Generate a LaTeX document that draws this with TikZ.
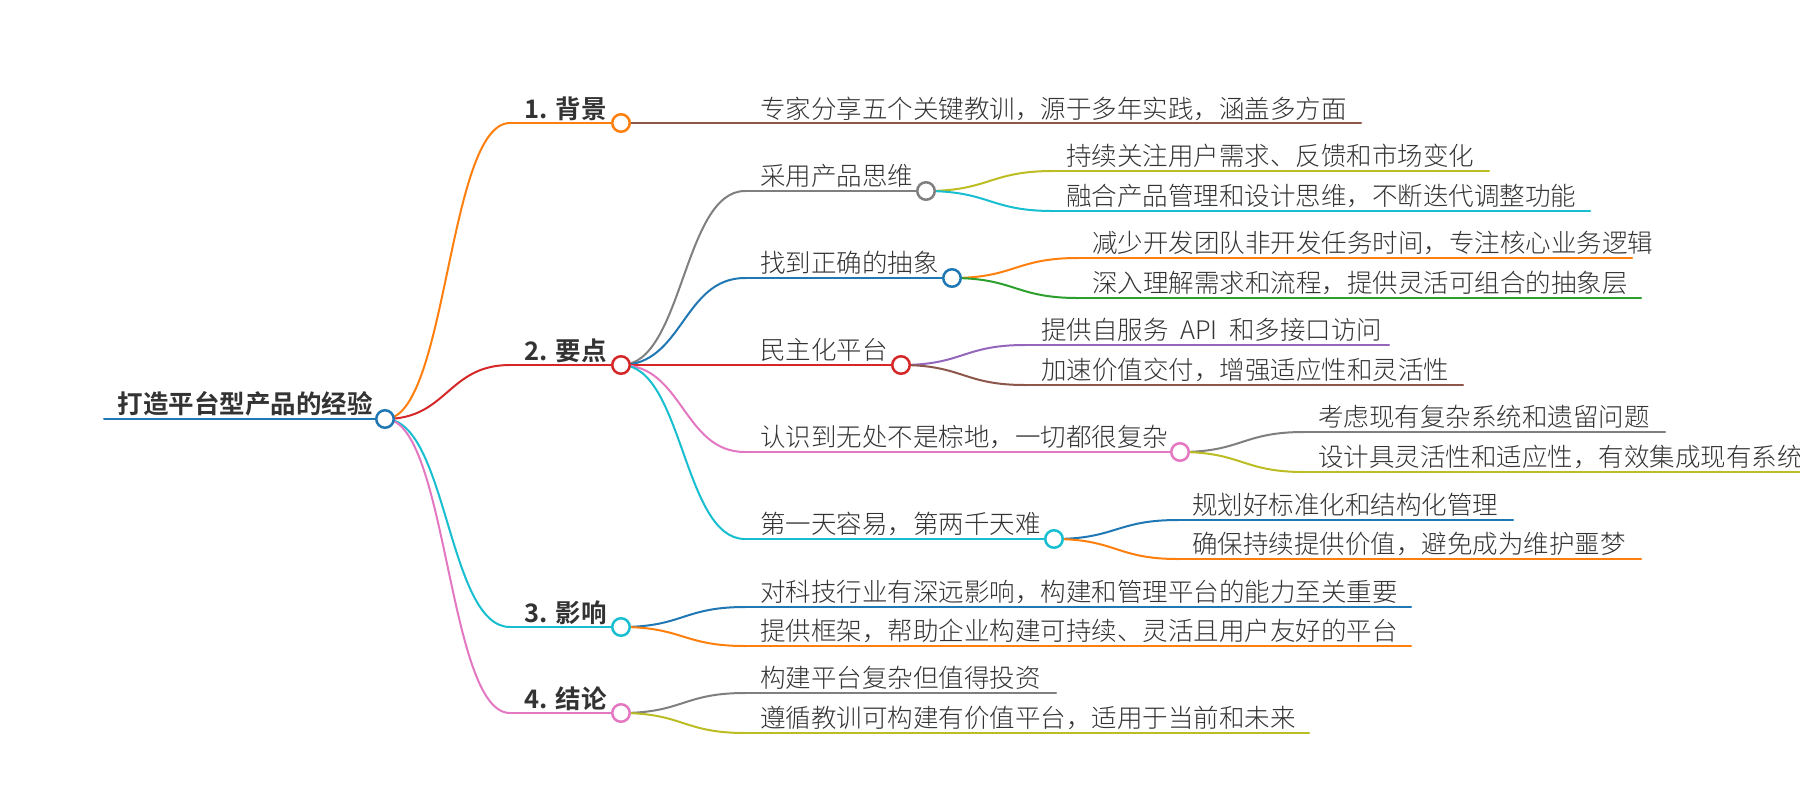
\documentclass[tikz,border=0pt]{standalone}
\usepackage{fontspec}
\setmainfont{Noto Sans CJK SC}[BoldFont={Noto Sans CJK SC Bold}]
\newfontfamily\lightcjk{Noto Sans CJK SC Light}
\usetikzlibrary{calc}
\definecolor{cblue}{HTML}{1F77B4}
\definecolor{corange}{HTML}{FF7F0E}
\definecolor{cgreen}{HTML}{2CA02C}
\definecolor{cred}{HTML}{D62728}
\definecolor{cpurple}{HTML}{9467BD}
\definecolor{cbrown}{HTML}{8C564B}
\definecolor{cpink}{HTML}{E377C2}
\definecolor{cgray}{HTML}{7F7F7F}
\definecolor{colive}{HTML}{BCBD22}
\definecolor{ccyan}{HTML}{17BECF}
\definecolor{ink}{HTML}{333333}
\pgfdeclarelayer{bg}
\pgfsetlayers{bg,main}
\tikzset{
  ln/.style={line width=1pt, line cap=round},
  dot/.style={circle, draw=#1, fill=white, line width=1.25pt, minimum size=8.75pt, inner sep=0pt},
  tx/.style={anchor=base west, inner sep=0pt, text=ink, font=\lightcjk\fontsize{12.75pt}{14pt}\selectfont},
  hd/.style={anchor=base east, inner sep=0pt, text=ink, font=\fontsize{12.75pt}{14pt}\selectfont\bfseries},
}
\newcommand\mmlink[3]{%
  \path (#2.center) -- coordinate[midway] (mmmid) (#3);
  \draw[ln, draw=#1] (#2.center) .. controls (mmmid |- #2.center) and (mmmid |- #3) .. (#3);}
\begin{document}
\begin{tikzpicture}[x=0.5pt,y=-0.5pt]
\useasboundingbox (0,0) rectangle (1800,800);
% ---------- root
\coordinate (Rs) at (104,419);
\node[dot=cblue] (R) at (385,419) {};
\node[hd] (Rt) at (373,413) {打造平台型产品的经验};
% ---------- level 1
\coordinate (As) at (510,123);
\node[dot=corange] (A) at (621,123) {};
\node[hd] (At) at (607,118) {1. 背景};
\coordinate (Bs) at (510,365);
\node[dot=cred] (B) at (621,365) {};
\node[hd] (Bt) at (607,360) {2. 要点};
\coordinate (Cs) at (510,627);
\node[dot=ccyan] (C) at (621,627) {};
\node[hd] (Ct) at (607,622) {3. 影响};
\coordinate (Ds) at (510,713);
\node[dot=cpink] (D) at (621,713) {};
\node[hd] (Dt) at (607,708) {4. 结论};
% ---------- leaf of A
\coordinate (A1s) at (745,123);
\coordinate (A1e) at (1361,123);
\node[tx] (A1t) at (760,118) {专家分享五个关键教训，源于多年实践，涵盖多方面};
% ---------- level 2 under B
\coordinate (B1s) at (745,191);
\node[dot=cgray] (B1) at (926,191) {};
\node[tx] (B1t) at (760,185.5) {采用产品思维};
\coordinate (B2s) at (745,278);
\node[dot=cblue] (B2) at (952,278) {};
\node[tx] (B2t) at (760,272.5) {找到正确的抽象};
\coordinate (B3s) at (745,365);
\node[dot=cred] (B3) at (901,365) {};
\node[tx] (B3t) at (760,359.5) {民主化平台};
\coordinate (B4s) at (745,452);
\node[dot=cpink] (B4) at (1180,452) {};
\node[tx] (B4t) at (760,446.5) {认识到无处不是棕地，一切都很复杂};
\coordinate (B5s) at (745,539);
\node[dot=ccyan] (B5) at (1054,539) {};
\node[tx] (B5t) at (760,533.5) {第一天容易，第两千天难};
% ---------- leaves under B1..B5
\coordinate (B1as) at (1053,171); \coordinate (B1ae) at (1489,171);
\node[tx] (B1at) at (1066,165.5) {持续关注用户需求、反馈和市场变化};
\coordinate (B1bs) at (1053,211); \coordinate (B1be) at (1590,211);
\node[tx] (B1bt) at (1066,205.5) {融合产品管理和设计思维，不断迭代调整功能};
\coordinate (B2as) at (1078,258); \coordinate (B2ae) at (1632,258);
\node[tx] (B2at) at (1092,252.5) {减少开发团队非开发任务时间，专注核心业务逻辑};
\coordinate (B2bs) at (1078,298); \coordinate (B2be) at (1641,298);
\node[tx] (B2bt) at (1092,292.5) {深入理解需求和流程，提供灵活可组合的抽象层};
\coordinate (B3as) at (1025,345); \coordinate (B3ae) at (1389,345);
\node[tx] (B3at) at (1041,339.5) {提供自服务\hspace{0.45em}API\hspace{0.45em}和多接口访问};
\coordinate (B3bs) at (1025,385); \coordinate (B3be) at (1463,385);
\node[tx] (B3bt) at (1041,379.5) {加速价值交付，增强适应性和灵活性};
\coordinate (B4as) at (1304,432); \coordinate (B4ae) at (1665,432);
\node[tx] (B4at) at (1318,426.5) {考虑现有复杂系统和遗留问题};
\coordinate (B4bs) at (1304,472); \coordinate (B4be) at (1850,472);
\node[tx] (B4bt) at (1318,466.5) {设计具灵活性和适应性，有效集成现有系统};
\coordinate (B5as) at (1178,520); \coordinate (B5ae) at (1513,520);
\node[tx] (B5at) at (1192,514.5) {规划好标准化和结构化管理};
\coordinate (B5bs) at (1178,559); \coordinate (B5be) at (1641,559);
\node[tx] (B5bt) at (1192,553.5) {确保持续提供价值，避免成为维护噩梦};
% ---------- leaves under C, D
\coordinate (C1s) at (745,607); \coordinate (C1e) at (1411,607);
\node[tx] (C1t) at (760,601.5) {对科技行业有深远影响，构建和管理平台的能力至关重要};
\coordinate (C2s) at (745,646); \coordinate (C2e) at (1411,646);
\node[tx] (C2t) at (760,640.5) {提供框架，帮助企业构建可持续、灵活且用户友好的平台};
\coordinate (D1s) at (745,693); \coordinate (D1e) at (1056,693);
\node[tx] (D1t) at (760,687.5) {构建平台复杂但值得投资};
\coordinate (D2s) at (745,733); \coordinate (D2e) at (1309,733);
\node[tx] (D2t) at (760,727.5) {遵循教训可构建有价值平台，适用于当前和未来};
% ---------- connectors
\begin{pgfonlayer}{bg}
\draw[ln, draw=cblue] (Rs) -- (R.center);
\mmlink{corange}{R}{As} \draw[ln, draw=corange] (As) -- (A.center);
\mmlink{cred}{R}{Bs}    \draw[ln, draw=cred] (Bs) -- (B.center);
\mmlink{ccyan}{R}{Cs}   \draw[ln, draw=ccyan] (Cs) -- (C.center);
\mmlink{cpink}{R}{Ds}   \draw[ln, draw=cpink] (Ds) -- (D.center);
\draw[ln, draw=cbrown] (A.center) -- (A1s) -- (A1e);
\mmlink{cgray}{B}{B1s}  \draw[ln, draw=cgray] (B1s) -- (B1.center);
\mmlink{cblue}{B}{B2s}  \draw[ln, draw=cblue] (B2s) -- (B2.center);
\draw[ln, draw=cred] (B.center) -- (B3s) -- (B3.center);
\mmlink{cpink}{B}{B4s}  \draw[ln, draw=cpink] (B4s) -- (B4.center);
\mmlink{ccyan}{B}{B5s}  \draw[ln, draw=ccyan] (B5s) -- (B5.center);
\mmlink{colive}{B1}{B1as}  \draw[ln, draw=colive] (B1as) -- (B1ae);
\mmlink{ccyan}{B1}{B1bs}   \draw[ln, draw=ccyan] (B1bs) -- (B1be);
\mmlink{corange}{B2}{B2as} \draw[ln, draw=corange] (B2as) -- (B2ae);
\mmlink{cgreen}{B2}{B2bs}  \draw[ln, draw=cgreen] (B2bs) -- (B2be);
\mmlink{cpurple}{B3}{B3as} \draw[ln, draw=cpurple] (B3as) -- (B3ae);
\mmlink{cbrown}{B3}{B3bs}  \draw[ln, draw=cbrown] (B3bs) -- (B3be);
\mmlink{cgray}{B4}{B4as}   \draw[ln, draw=cgray] (B4as) -- (B4ae);
\mmlink{colive}{B4}{B4bs}  \draw[ln, draw=colive] (B4bs) -- (B4be);
\mmlink{cblue}{B5}{B5as}   \draw[ln, draw=cblue] (B5as) -- (B5ae);
\mmlink{corange}{B5}{B5bs} \draw[ln, draw=corange] (B5bs) -- (B5be);
\mmlink{cblue}{C}{C1s}     \draw[ln, draw=cblue] (C1s) -- (C1e);
\mmlink{corange}{C}{C2s}   \draw[ln, draw=corange] (C2s) -- (C2e);
\mmlink{cgray}{D}{D1s}     \draw[ln, draw=cgray] (D1s) -- (D1e);
\mmlink{colive}{D}{D2s}    \draw[ln, draw=colive] (D2s) -- (D2e);
\end{pgfonlayer}
\end{tikzpicture}
\end{document}
